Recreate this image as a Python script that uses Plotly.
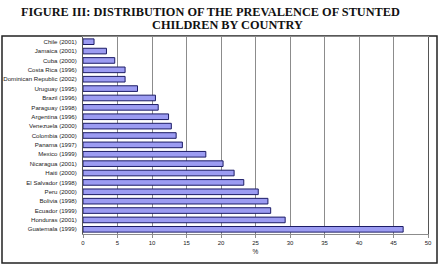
import plotly.graph_objects as go

countries = ["Chile (2001)", "Jamaica (2001)", "Cuba (2000)", "Costa Rica (1996)",
             "Dominican Republic (2002)", "Uruguay (1995)", "Brazil (1996)",
             "Paraguay (1998)", "Argentina (1996)", "Venezuela (2000)",
             "Colombia (2000)", "Panama (1997)", "Mexico (1999)", "Nicaragua (2001)",
             "Haiti (2000)", "El Salvador (1998)", "Peru (2000)", "Bolivia (1998)",
             "Ecuador (1999)", "Honduras (2001)", "Guatemala (1999)"]
values = [1.6, 3.4, 4.6, 6.1, 6.1, 7.9, 10.5, 10.9, 12.4, 12.8, 13.5, 14.4,
          17.8, 20.3, 21.9, 23.3, 25.4, 26.8, 27.2, 29.3, 46.4]
x_ticks = [0, 5, 10, 15, 20, 25, 30, 35, 40, 45, 50]
title_lines = ["FIGURE III: DISTRIBUTION OF THE PREVALENCE OF STUNTED",
               "CHILDREN BY COUNTRY"]

fig = go.Figure(go.Bar(
    x=values, y=countries, orientation="h",
    marker=dict(color="#9c9cf2", line=dict(color="#1c1c66", width=1)),
))

L, R, T, B = 83, 12, 37, 31
W, H = 440, 265
pw, ph = W - L - R, H - T - B

def py(px):
    return 1 - (px - T) / ph

def pxx(px):
    return (px - L) / pw

title_cx = [210, 227]
annotations = []
for i, line in enumerate(title_lines):
    annotations.append(dict(
        text=line, xref="paper", yref="paper", x=pxx(title_cx[i]), y=py(12 + 13 * i),
        xanchor="center", yanchor="middle", showarrow=False,
        font=dict(family="Liberation Serif, Times New Roman", size=12.3, color="#111", weight="bold"),
    ))

fig.update_layout(
    width=W, height=H,
    margin=dict(l=L, r=R, t=T, b=B),
    paper_bgcolor="white", plot_bgcolor="white",
    bargap=0.4, showlegend=False,
    font=dict(family="Liberation Sans, Arial", size=6.5, color="#222"),
    annotations=annotations,
    xaxis=dict(
        range=[0, 50], tickvals=x_ticks, ticktext=[str(v) for v in x_ticks],
        showgrid=True, gridcolor="#8c8c8c", gridwidth=1,
        showline=True, linecolor="#8c8c8c", linewidth=1, mirror=True,
        ticks="outside", ticklen=3, tickcolor="#8c8c8c",
        tickfont=dict(size=6), zeroline=False, automargin=False,
        title=dict(text="%", font=dict(size=6.5), standoff=4),
        fixedrange=True,
    ),
    yaxis=dict(
        categoryorder="array", categoryarray=countries, autorange="reversed",
        showline=True, linecolor="#555", linewidth=1, mirror=True,
        ticks="", tickfont=dict(size=6.1), ticklabelstandoff=4,
        showgrid=False, fixedrange=True, automargin=False,
    ),
    shapes=[dict(
        type="rect", xref="paper", yref="paper",
        x0=pxx(2), x1=pxx(437), y0=py(263), y1=py(36),
        line=dict(color="#222", width=1.5), fillcolor="rgba(0,0,0,0)", layer="below",
    )],
)

fig.write_html("out.html")
